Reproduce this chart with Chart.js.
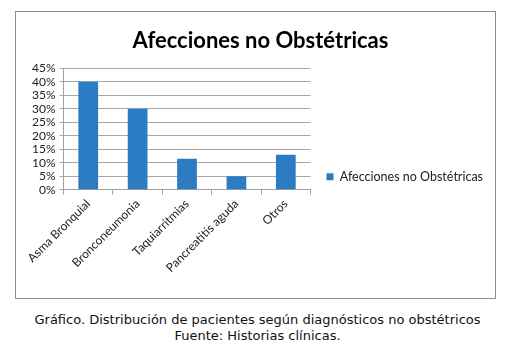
<!DOCTYPE html>
<html>
<head>
<meta charset="utf-8">
<script src="https://cdn.jsdelivr.net/npm/chart.js@4"></script>
<style>
  body { margin: 0; background: #fff; width: 515px; height: 347px; position: relative; }
  #box { position: absolute; left: 15px; top: 11px; width: 479px; height: 286px; border: 1px solid #8c8c8c; }
  #caption { position: absolute; left: 0; top: 312px; width: 515px; text-align: center;
             font-family: "DejaVu Sans", Verdana, sans-serif; font-size: 13px; line-height: 16px; color: #111; }
</style>
</head>
<body>
<div id="box"><canvas id="chart" width="479" height="286"></canvas></div>
<div id="caption">Gráfico. Distribución de pacientes según diagnósticos no obstétricos<br>Fuente: Historias clínicas.</div>
<script>
const categories = ['Asma Bronquial', 'Bronconeumonia', 'Taquiarritmias', 'Pancreatitis aguda', 'Otros'];
const values = [40, 30, 11.5, 5, 13];
const seriesName = 'Afecciones no Obstétricas';
const yMax = 45;
const yStep = 5;

const font = 'Lato, "Open Sans", sans-serif';

new Chart(document.getElementById('chart'), {
    type: 'bar',
    data: {
        labels: categories,
        datasets: [{
            label: seriesName,
            data: values,
            backgroundColor: '#2b7cc3',
            categoryPercentage: 1,
            barPercentage: 0.4
        }]
    },
    options: {
        responsive: false,
        animation: false,
        layout: { padding: { left: 12, right: 2, top: 0, bottom: 21 } },
        plugins: {
            title: {
                display: true,
                text: 'Afecciones no Obstétricas',
                color: '#000',
                font: { family: font, size: 22, weight: 'bold' },
                padding: { top: 16, bottom: 14 }
            },
            legend: {
                position: 'right',
                maxWidth: 220,
                // empty legend title only pushes the entry down to where the reference has it
                title: { display: true, text: ' ', font: { size: 12 }, padding: { top: 0, bottom: 50 } },
                labels: {
                    color: '#222',
                    font: { family: font, size: 12.5 },
                    boxWidth: 7,
                    boxHeight: 7,
                    padding: 16
                }
            },
            tooltip: { enabled: false }
        },
        scales: {
            x: {
                grid: { drawOnChartArea: false, drawTicks: true, tickLength: 5, color: '#a0a0a0' },
                border: { color: '#a0a0a0' },
                ticks: { color: '#222', font: { family: font, size: 12 }, minRotation: 45, maxRotation: 45, padding: 2, autoSkip: false }
            },
            y: {
                min: 0,
                max: yMax,
                grid: { color: '#a8a8a8', tickLength: 4 },
                border: { color: '#a0a0a0' },
                ticks: {
                    stepSize: yStep,
                    autoSkip: false,
                    color: '#222',
                    font: { family: font, size: 12 },
                    padding: 4,
                    callback: v => v + '%'
                }
            }
        }
    }
});
</script>
</body>
</html>
